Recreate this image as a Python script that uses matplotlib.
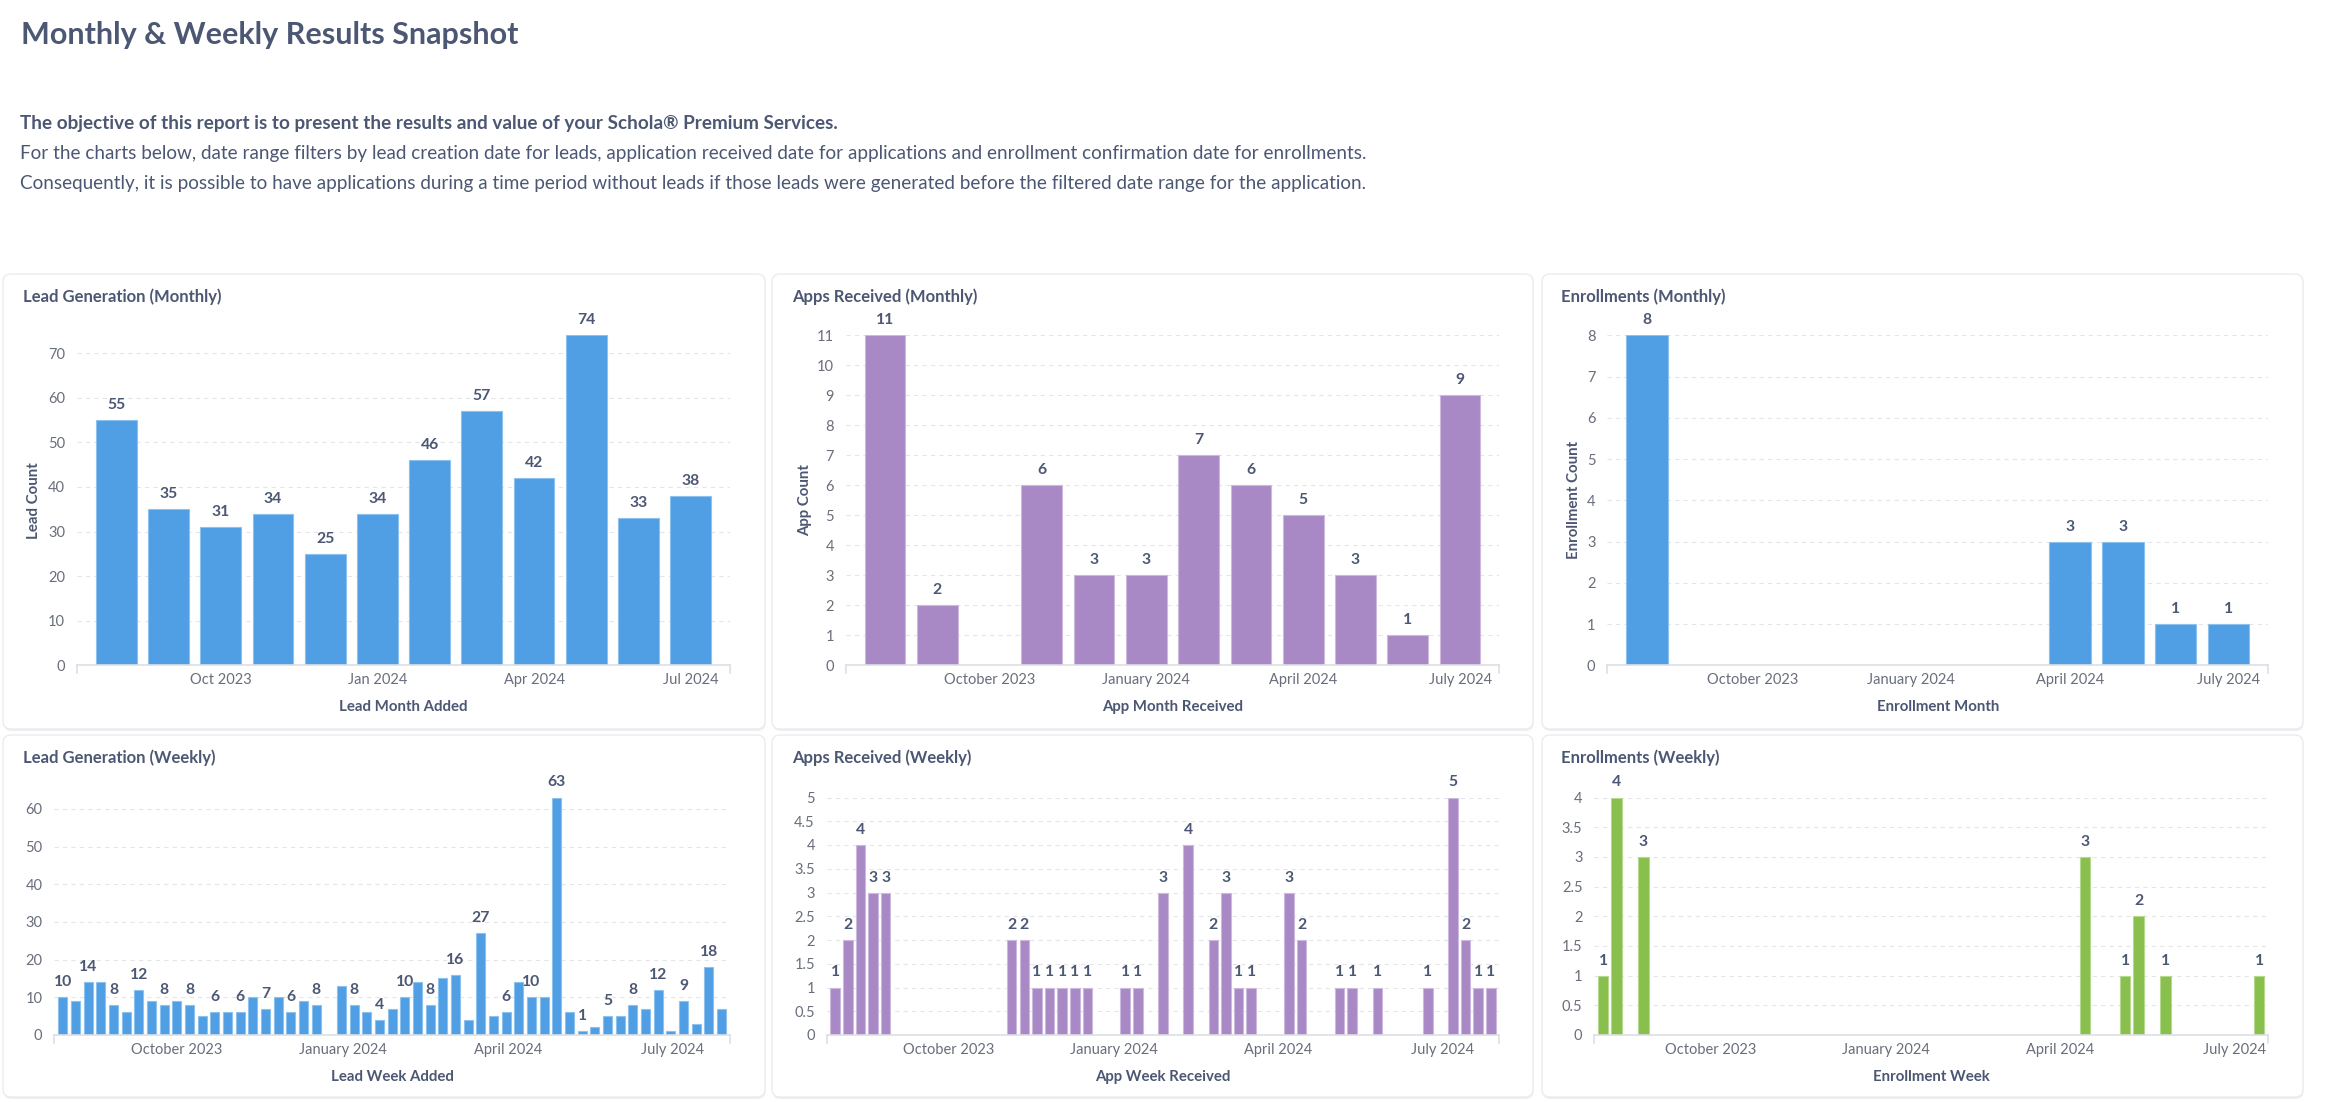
import matplotlib
matplotlib.use('Agg')
import matplotlib.pyplot as plt
import matplotlib.dates as mdates
from matplotlib.patches import FancyBboxPatch
from matplotlib.ticker import FuncFormatter
import pandas as pd
import numpy as np

plt.rcParams['font.family'] = ['Lato', 'DejaVu Sans']

# ---------------- data ----------------
months = ['2023-08', '2023-09', '2023-10', '2023-11', '2023-12', '2024-01',
          '2024-02', '2024-03', '2024-04', '2024-05', '2024-06', '2024-07']
lead_monthly = [55, 35, 31, 34, 25, 34, 46, 57, 42, 74, 33, 38]
apps_monthly = [11, 2, 0, 6, 3, 3, 7, 6, 5, 3, 1, 9]
enroll_monthly = [8, 0, 0, 0, 0, 0, 0, 0, 3, 3, 1, 1]

lead_week_start = '2023-07-30'
lead_weekly = [10, 9, 14, 14, 8, 6, 12, 9, 8, 9,
               8, 5, 6, 6, 6, 10, 7, 10, 6, 9,
               8, 0, 13, 8, 6, 4, 7, 10, 14, 8,
               15, 16, 4, 27, 5, 6, 14, 10, 10, 63,
               6, 1, 2, 5, 5, 8, 7, 12, 1, 9,
               3, 18, 7]

apps_weeks = ['2023-07-30', '2023-08-06', '2023-08-13', '2023-08-20', '2023-08-27',
              '2023-11-05', '2023-11-12', '2023-11-19', '2023-11-26', '2023-12-03',
              '2023-12-10', '2023-12-17', '2024-01-07', '2024-01-14', '2024-01-28',
              '2024-02-11', '2024-02-25', '2024-03-03', '2024-03-10', '2024-03-17',
              '2024-04-07', '2024-04-14', '2024-05-05', '2024-05-12', '2024-05-26',
              '2024-06-23', '2024-07-07', '2024-07-14', '2024-07-21', '2024-07-28']
apps_weekly = [1, 2, 4, 3, 3, 2, 2, 1, 1, 1, 1, 1, 1, 1, 3,
               4, 2, 3, 1, 1, 3, 2, 1, 1, 1, 1, 5, 2, 1, 1]

enroll_weeks = ['2023-08-06', '2023-08-13', '2023-08-27', '2024-04-14',
                '2024-05-05', '2024-05-12', '2024-05-26', '2024-07-14']
enroll_weekly = [1, 4, 3, 3, 1, 2, 1, 1]

page_title = 'Monthly & Weekly Results Snapshot'
intro_bold = 'The objective of this report is to present the results and value of your Schola® Premium Services.'
intro_lines = ['For the charts below, date range filters by lead creation date for leads, application received date for applications and enrollment confirmation date for enrollments.',
               'Consequently, it is possible to have applications during a time period without leads if those leads were generated before the filtered date range for the application.']

# ---------------- style ----------------
W, H = 2327, 1102
DARK = '#4C5773'
MED = '#696E7B'
GRID = '#E3E5E9'
AXIS = '#DCDFE4'
BLUE, BLUE_E = '#509EE3', '#8DC1EE'
PURPLE, PURPLE_E = '#A989C5', '#CDB9DE'
GREEN, GREEN_E = '#88BF4D', '#B5D98E'

fig = plt.figure(figsize=(W / 100, H / 100), dpi=100)
fig.patch.set_facecolor('white')

bg = fig.add_axes([0, 0, 1, 1])
bg.set_xlim(0, W)
bg.set_ylim(H, 0)
bg.axis('off')

# cards
cols = [(3, 765), (772, 1533), (1542, 2303)]
rows = [(274, 729), (735, 1097)]
for (y0, y1) in rows:
    for (x0, x1) in cols:
        sh = FancyBboxPatch((x0 + 0.5, y0 + 2), x1 - x0, y1 - y0,
                            boxstyle='round,pad=0,rounding_size=8',
                            fc='#EEEFF2', ec='none', zorder=0)
        bg.add_patch(sh)
        card = FancyBboxPatch((x0, y0), x1 - x0, y1 - y0,
                              boxstyle='round,pad=0,rounding_size=8',
                              fc='white', ec='#EBECEF', lw=1, zorder=1)
        bg.add_patch(card)

# page text
bg.text(21, 35, page_title, fontsize=22, fontweight='bold', color=DARK, va='center', ha='left')
bg.text(20, 123, intro_bold, fontsize=13.6, fontweight='bold', color=DARK, va='center', ha='left')
for i, line in enumerate(intro_lines):
    bg.text(20, 153 + 30 * i, line, fontsize=13.6, color=DARK, va='center', ha='left')

titles = [['Lead Generation (Monthly)', 'Apps Received (Monthly)', 'Enrollments (Monthly)'],
          ['Lead Generation (Weekly)', 'Apps Received (Weekly)', 'Enrollments (Weekly)']]
title_x = [22.6, 792, 1560.7]
title_y = [296.7, 758]
for r in range(2):
    for c in range(3):
        bg.text(title_x[c], title_y[r], titles[r][c], fontsize=12, fontweight='bold',
                color=DARK, va='center', ha='left')


def px_axes(x0, x1, ytop, ybot):
    ax = fig.add_axes([x0 / W, 1 - ybot / H, (x1 - x0) / W, (ybot - ytop) / H])
    ax.set_facecolor('none')
    return ax, (x1 - x0), (ybot - ytop)


def style_axes(ax, wpx, hpx, yticks, xlabel, ylabel=None, ylabel_off=None):
    for s in ['top', 'right', 'left']:
        ax.spines[s].set_visible(False)
    ax.spines['bottom'].set_color(AXIS)
    ax.spines['bottom'].set_linewidth(1.2)
    ax.spines['bottom'].set_zorder(4)
    ax.set_yticks(yticks)
    ax.yaxis.set_major_formatter(FuncFormatter(lambda v, p: f'{v:g}'))
    ax.yaxis.grid(True, color=GRID, linestyle=(0, (3.8, 3.8)), lw=0.8, zorder=0)
    ax.set_axisbelow(True)
    ax.tick_params(axis='y', length=0, pad=8.5, labelsize=10.5, labelcolor=MED)
    ax.tick_params(axis='x', length=0, pad=5.5, labelsize=10.5, labelcolor=MED)
    # end ticks on x axis
    for xe in (0, 1):
        ax.plot([xe, xe], [0, -8 / hpx], transform=ax.transAxes, color=AXIS,
                lw=1.2, clip_on=False, zorder=4)
    ax.set_xlabel(xlabel, fontsize=10.8, fontweight='bold', color=DARK)
    ax.xaxis.label.set_va('center')
    ax.xaxis.set_label_coords(0.5, -42 / hpx)
    if ylabel:
        ax.set_ylabel(ylabel, fontsize=10.8, fontweight='bold', color=DARK)
        ax.yaxis.label.set_va('center')
        ax.yaxis.set_label_coords(ylabel_off / wpx, 0.5)


def add_labels(ax, xs, vs, every=1):
    k = 0
    for x, v in zip(xs, vs):
        if v == 0:
            continue
        if k % every == 0:
            ax.annotate(str(v), (x, v), xytext=(0, 10.8), textcoords='offset points',
                        ha='center', va='center', fontsize=11.3, fontweight='bold',
                        color=DARK, annotation_clip=False, zorder=5)
        k += 1


def monthly(ax, wpx, hpx, values, color, edge, yticks, xlabel, ylabel, ylabel_off, fmt):
    x = np.arange(len(values))
    vals = np.array(values)
    nz = vals > 0
    ax.bar(x[nz], vals[nz], width=0.78, color=color, edgecolor=edge, linewidth=0.8, zorder=3)
    ax.set_xlim(-0.75, len(values) - 1 + 0.75)
    ax.set_ylim(0, max(values))
    dts = pd.to_datetime(months)
    tick_idx = [i for i, d in enumerate(dts) if d.month in (1, 4, 7, 10)]
    ax.set_xticks(tick_idx)
    ax.set_xticklabels([dts[i].strftime(fmt) for i in tick_idx])
    style_axes(ax, wpx, hpx, yticks, xlabel, ylabel, ylabel_off)
    add_labels(ax, x, values)


def weekly(ax, wpx, hpx, dates, values, color, edge, yticks, xlabel, width_w, every=1):
    d = mdates.date2num(pd.to_datetime(dates).to_pydatetime())
    vals = np.array(values)
    nz = vals > 0
    ax.bar(d[nz], vals[nz], width=width_w * 7, color=color, edgecolor=edge, linewidth=0.8, zorder=3)
    pad = 0.67 * 7
    ax.set_xlim(d.min() - pad, d.max() + pad)
    ax.set_ylim(0, max(values))
    ax.xaxis.set_major_locator(mdates.MonthLocator(bymonth=[1, 4, 7, 10]))
    ax.xaxis.set_major_formatter(mdates.DateFormatter('%B %Y'))
    style_axes(ax, wpx, hpx, yticks, xlabel)
    add_labels(ax, d, values, every=every)


# ---- top row ----
ax, w, h = px_axes(77, 730, 335.3, 665.3)
monthly(ax, w, h, lead_monthly, BLUE, BLUE_E, np.arange(0, 71, 10),
        'Lead Month Added', 'Lead Count', -43, '%b %Y')

ax, w, h = px_axes(845.7, 1499.3, 335.3, 665.3)
monthly(ax, w, h, apps_monthly, PURPLE, PURPLE_E, np.arange(0, 12, 1),
        'App Month Received', 'App Count', -40.7, '%B %Y')

ax, w, h = px_axes(1607.3, 2268.3, 335.3, 665.3)
monthly(ax, w, h, enroll_monthly, BLUE, BLUE_E, np.arange(0, 9, 1),
        'Enrollment Month', 'Enrollment Count', -33, '%B %Y')

# ---- bottom row ----
lead_dates = pd.date_range(lead_week_start, periods=len(lead_weekly), freq='7D')
ax, w, h = px_axes(54.3, 730, 797.5, 1035)
weekly(ax, w, h, lead_dates, lead_weekly, BLUE, BLUE_E, np.arange(0, 61, 10),
       'Lead Week Added', 0.71, every=2)

ax, w, h = px_axes(826.7, 1499.3, 797.5, 1035)
weekly(ax, w, h, apps_weeks, apps_weekly, PURPLE, PURPLE_E, np.arange(0, 5.01, 0.5),
       'App Week Received', 0.76)

ax, w, h = px_axes(1594.3, 2268, 797.5, 1035)
weekly(ax, w, h, enroll_weeks, enroll_weekly, GREEN, GREEN_E, np.arange(0, 4.01, 0.5),
       'Enrollment Week', 0.77)

fig.savefig('out.png', dpi=100, facecolor='white')
